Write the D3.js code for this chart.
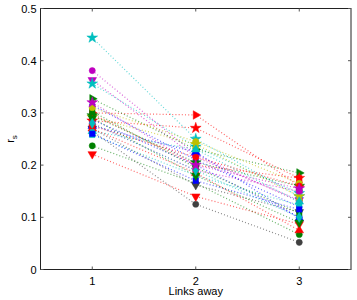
<!DOCTYPE html>
<html>
<head>
<meta charset="utf-8">
<script src="https://cdn.jsdelivr.net/npm/d3@7"></script>
<style>
body { margin: 0; background: #fff; }
text { font-family: "Liberation Sans", Arial, sans-serif; }
</style>
</head>
<body>
<svg id="plot1"></svg>
<script>
var linksAway = [1, 2, 3];
var yTicks = [0, 0.1, 0.2, 0.3, 0.4, 0.5];
var seriesColors = ['c','m','m','c','r','g','b','r','y','b','g','r','c','g','r','k','k','b','m','r','c','g','b','y','r','g','c','m'];
var seriesMarkers = ['star','circle','down','star','right','right','diamond','square','star','circle','star','star','square','circle','down','down','circle','up','circle','up','up','square','square','circle','circle','down','diamond','star'];
var rsAt1 = [0.444,0.381,0.363,0.356,0.300,0.327,0.315,0.298,0.292,0.287,0.295,0.285,0.258,0.237,0.221,0.270,0.265,0.275,0.280,0.270,0.265,0.303,0.260,0.310,0.275,0.290,0.280,0.320];
var rsAt2 = [0.250,0.220,0.215,0.235,0.296,0.230,0.210,0.200,0.240,0.200,0.205,0.271,0.180,0.165,0.140,0.162,0.125,0.225,0.190,0.185,0.230,0.195,0.170,0.245,0.215,0.180,0.190,0.200];
var rsAt3 = [0.140,0.130,0.133,0.146,0.160,0.185,0.120,0.175,0.140,0.100,0.160,0.175,0.123,0.067,0.087,0.110,0.052,0.098,0.150,0.075,0.130,0.108,0.115,0.165,0.160,0.090,0.100,0.155];

var clrs = {b:'#0000ff', g:'#008000', r:'#ff0000', c:'#00bfbf', m:'#bf00bf', y:'#bfbf00', k:'#404040'};

function draw() {
    var w = 357, h = 300;
    var x0 = 40.5, x1 = 351, y0 = 8.5, y1 = 269.5;

    var svg = d3.select('#plot1').attr('width', w).attr('height', h);

    var xs = d3.scaleLinear().domain([0.5, 3.5]).range([x0, x1]);
    var ys = d3.scaleLinear().domain([0, 0.5]).range([y1, y0]);

    // box
    svg.append('rect')
        .attr('x', x0).attr('y', y0)
        .attr('width', x1 - x0).attr('height', y1 - y0)
        .attr('fill', 'none').attr('stroke', '#222').attr('stroke-width', 1);

    // ticks inside, mirrored on top and right
    var tk = svg.append('g').attr('stroke', '#555');
    yTicks.forEach(function(t) {
        tk.append('line').attr('x1', x0).attr('x2', x0 + 3).attr('y1', ys(t)).attr('y2', ys(t));
        tk.append('line').attr('x1', x1).attr('x2', x1 - 3).attr('y1', ys(t)).attr('y2', ys(t));
    });
    linksAway.forEach(function(t) {
        tk.append('line').attr('x1', xs(t)).attr('x2', xs(t)).attr('y1', y1).attr('y2', y1 - 3);
        tk.append('line').attr('x1', xs(t)).attr('x2', xs(t)).attr('y1', y0).attr('y2', y0 + 3);
    });

    svg.append('g').selectAll('text').data(yTicks).enter().append('text')
        .attr('x', x0 - 4).attr('y', function(d) { return ys(d) + 4; })
        .attr('text-anchor', 'end').attr('font-size', 11)
        .text(function(d) { return d === 0 ? '0' : d.toFixed(1); });

    svg.append('g').selectAll('text').data(linksAway).enter().append('text')
        .attr('x', function(d) { return xs(d); }).attr('y', y1 + 15)
        .attr('text-anchor', 'middle').attr('font-size', 11)
        .text(function(d) { return d; });

    svg.append('text').attr('x', (x0 + x1) / 2).attr('y', 295)
        .attr('text-anchor', 'middle').attr('font-size', 11).text('Links away');

    var yl = svg.append('text').attr('transform', 'translate(14,' + ((y0 + y1) / 2) + ') rotate(-90)')
        .attr('text-anchor', 'middle').attr('font-size', 11);
    yl.append('tspan').text('r');
    yl.append('tspan').attr('font-size', 8).attr('dy', 3).text('s');

    function markerPath(m) {
        if (m === 'circle') return d3.symbol(d3.symbolCircle, 30)();
        if (m === 'star') return d3.symbol(d3.symbolStar, 36)();
        if (m === 'diamond') return d3.symbol(d3.symbolDiamond, 30)();
        if (m === 'square') return d3.symbol(d3.symbolSquare, 30)();
        return d3.symbol(d3.symbolTriangle, 32)();
    }
    function markerRot(m) {
        if (m === 'down') return 180;
        if (m === 'right') return 90;
        return 0;
    }

    var plot = svg.append('g');
    var line = d3.line().x(function(d) { return xs(d[0]); }).y(function(d) { return ys(d[1]); });

    for (var i = 0; i < rsAt1.length; i++) {
        var pts = [[1, rsAt1[i]], [2, rsAt2[i]], [3, rsAt3[i]]];
        var col = clrs[seriesColors[i]];
        var mk = seriesMarkers[i];
        var g = plot.append('g');
        g.append('path').datum(pts).attr('d', line)
            .attr('fill', 'none').attr('stroke', col).attr('stroke-width', 1.2)
            .attr('stroke-dasharray', '1,2.2').attr('opacity', 0.6);
        g.selectAll('path.mk').data(pts).enter().append('path')
            .attr('class', 'mk')
            .attr('d', markerPath(mk))
            .attr('transform', function(d) {
                return 'translate(' + xs(d[0]) + ',' + ys(d[1]) + ') rotate(' + markerRot(mk) + ')';
            })
            .attr('fill', col).attr('stroke', col).attr('stroke-width', 0.5);
    }
}
draw();
</script>
</body>
</html>
